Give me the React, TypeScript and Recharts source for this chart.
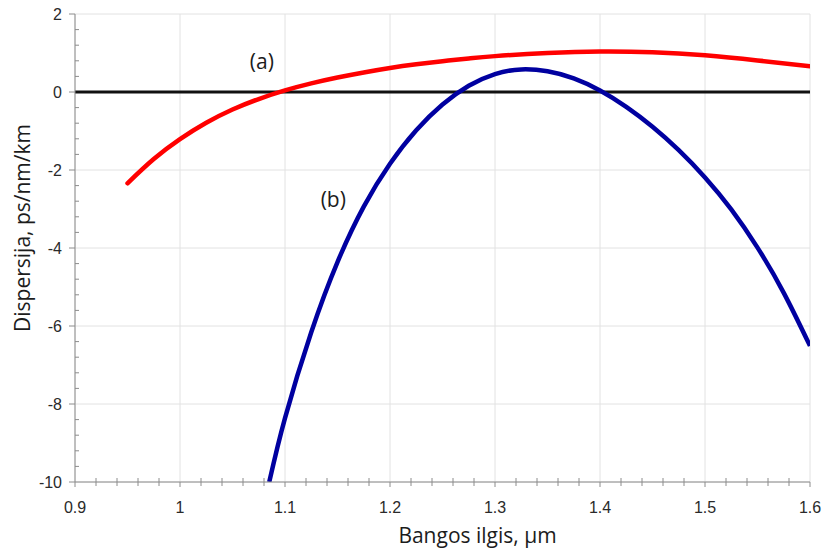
import { CartesianGrid, Line, LineChart, ReferenceDot, ReferenceLine, XAxis, YAxis } from "recharts";

// wavelength (µm) vs dispersion (ps/nm/km)
const curveA = [
  { x: 0.95, d: -2.34 },
  { x: 0.975, d: -1.72 },
  { x: 1.0, d: -1.21 },
  { x: 1.025, d: -0.79 },
  { x: 1.05, d: -0.45 },
  { x: 1.075, d: -0.18 },
  { x: 1.1, d: 0.04 },
  { x: 1.125, d: 0.22 },
  { x: 1.15, d: 0.37 },
  { x: 1.175, d: 0.5 },
  { x: 1.2, d: 0.615 },
  { x: 1.225, d: 0.71 },
  { x: 1.25, d: 0.79 },
  { x: 1.275, d: 0.86 },
  { x: 1.3, d: 0.92 },
  { x: 1.35, d: 1.0 },
  { x: 1.4, d: 1.04 },
  { x: 1.45, d: 1.02 },
  { x: 1.5, d: 0.94 },
  { x: 1.55, d: 0.81 },
  { x: 1.6, d: 0.66 },
];

const curveB = [
  { x: 1.085, d: -10 },
  { x: 1.1, d: -8.36 },
  { x: 1.125, d: -6.16 },
  { x: 1.15, d: -4.36 },
  { x: 1.175, d: -2.94 },
  { x: 1.2, d: -1.84 },
  { x: 1.225, d: -0.98 },
  { x: 1.25, d: -0.32 },
  { x: 1.275, d: 0.16 },
  { x: 1.3, d: 0.46 },
  { x: 1.325, d: 0.58 },
  { x: 1.35, d: 0.53 },
  { x: 1.375, d: 0.35 },
  { x: 1.4, d: 0.04 },
  { x: 1.425, d: -0.38 },
  { x: 1.45, d: -0.89 },
  { x: 1.475, d: -1.49 },
  { x: 1.5, d: -2.19 },
  { x: 1.525, d: -3.01 },
  { x: 1.55, d: -3.99 },
  { x: 1.575, d: -5.15 },
  { x: 1.6, d: -6.51 },
];

const xTicks = [0.9, 1.0, 1.1, 1.2, 1.3, 1.4, 1.5, 1.6];
const yTicks = [-10, -8, -6, -4, -2, 0, 2];
// minor ticks: every 0.02 µm and every 0.4 ps/nm/km
const xMinor = [
  0.92, 0.94, 0.96, 0.98, 1.02, 1.04, 1.06, 1.08, 1.12, 1.14, 1.16, 1.18,
  1.22, 1.24, 1.26, 1.28, 1.32, 1.34, 1.36, 1.38, 1.42, 1.44, 1.46, 1.48,
  1.52, 1.54, 1.56, 1.58,
];
const yMinor = [
  -9.6, -9.2, -8.8, -8.4, -7.6, -7.2, -6.8, -6.4, -5.6, -5.2, -4.8, -4.4,
  -3.6, -3.2, -2.8, -2.4, -1.6, -1.2, -0.8, -0.4, 0.4, 0.8, 1.2, 1.6,
];

const X_TITLE = "Bangos ilgis, µm";
const Y_TITLE = "Dispersija, ps/nm/km";

const allXTicks = [...xTicks, ...xMinor].sort((a, b) => a - b);
const allYTicks = [...yTicks, ...yMinor].sort((a, b) => a - b);
const isMajor = (list: number[], v: number) => list.some((t) => Math.abs(t - v) < 1e-6);

const tickFamily = "'Liberation Sans', Arial, sans-serif";
const titleFamily = "'Open Sans', 'Noto Sans', sans-serif";
const axisGray = "#8c8c8c";
const INK = "#1c1c1c";

// x/y arrive on the axis line itself (tickSize and tickMargin are 0)
function XTick({ x, y, payload }: any) {
  const v = Number(payload.value);
  if (!isMajor(xTicks, v)) {
    return <line x1={x} x2={x} y1={y - 4} y2={y + 4} stroke={axisGray} />;
  }
  return (
    <g>
      <line x1={x} x2={x} y1={y} y2={y + 5} stroke={axisGray} />
      <text x={x} y={y + 31} textAnchor="middle" fontFamily={tickFamily} fontSize={16} fill="#2a2a2a">
        {String(+v.toFixed(1))}
      </text>
    </g>
  );
}

function YTick({ x, y, payload }: any) {
  const v = Number(payload.value);
  if (!isMajor(yTicks, v)) {
    return <line x1={x} x2={x + 4} y1={y} y2={y} stroke={axisGray} />;
  }
  return (
    <g>
      <line x1={x - 6} x2={x} y1={y} y2={y} stroke={axisGray} />
      <text x={x - 13} y={y + 6} textAnchor="end" fontFamily={tickFamily} fontSize={16} fill="#2a2a2a">
        {v}
      </text>
    </g>
  );
}

export default function App() {
  return (
    <div style={{ position: "absolute", left: 0, top: 0, width: 825, height: 553, background: "#fff" }}>
      <LineChart width={825} height={553} margin={{ top: 14, right: 15, left: 0, bottom: 0 }}>
        <CartesianGrid stroke="#e2e2e2" strokeWidth={1} verticalValues={xTicks} horizontalValues={yTicks} />
        <XAxis
          dataKey="x"
          type="number"
          domain={[0.9, 1.6]}
          ticks={allXTicks}
          interval={0}
          height={71}
          stroke={axisGray}
          tickLine={false}
          tickSize={0}
          tickMargin={0}
          tick={<XTick />}
          allowDataOverflow
          label={{
            content: ({ viewBox }: any) => (
              <text
                x={viewBox.x + viewBox.width / 2 + 35}
                y={viewBox.y + 61}
                textAnchor="middle"
                fontFamily={titleFamily}
                fontSize={21}
                fill={INK}
              >
                {X_TITLE}
              </text>
            ),
          }}
        />
        <YAxis
          type="number"
          domain={[-10, 2]}
          ticks={allYTicks}
          interval={0}
          width={75}
          stroke={axisGray}
          tickLine={false}
          tickSize={0}
          tickMargin={0}
          tick={<YTick />}
          allowDataOverflow
          label={{
            content: ({ viewBox }: any) => {
              const cx = viewBox.x + 22;
              const cy = viewBox.y + viewBox.height / 2 - 20;
              return (
                <text
                  x={cx}
                  y={cy}
                  transform={`rotate(-90 ${cx} ${cy})`}
                  textAnchor="middle"
                  dominantBaseline="central"
                  fontFamily={titleFamily}
                  fontSize={21}
                  fill={INK}
                >
                  {Y_TITLE}
                </text>
              );
            },
          }}
        />
        <ReferenceLine y={0} stroke="#111" strokeWidth={3} />
        <Line
          data={curveA}
          dataKey="d"
          type="natural"
          stroke="#ff0000"
          strokeWidth={4.5}
          strokeLinecap="round"
          dot={false}
          activeDot={false}
          isAnimationActive={false}
        />
        <Line
          data={curveB}
          dataKey="d"
          type="natural"
          stroke="#0000a0"
          strokeWidth={4.5}
          dot={false}
          activeDot={false}
          isAnimationActive={false}
        />
        <ReferenceDot
          x={1.078}
          y={0.77}
          r={0}
          stroke="none"
          label={{ value: "(a)", position: "center", fontFamily: titleFamily, fontSize: 21, fill: INK }}
        />
        <ReferenceDot
          x={1.146}
          y={-2.77}
          r={0}
          stroke="none"
          label={{ value: "(b)", position: "center", fontFamily: titleFamily, fontSize: 21, fill: INK }}
        />
      </LineChart>
    </div>
  );
}
